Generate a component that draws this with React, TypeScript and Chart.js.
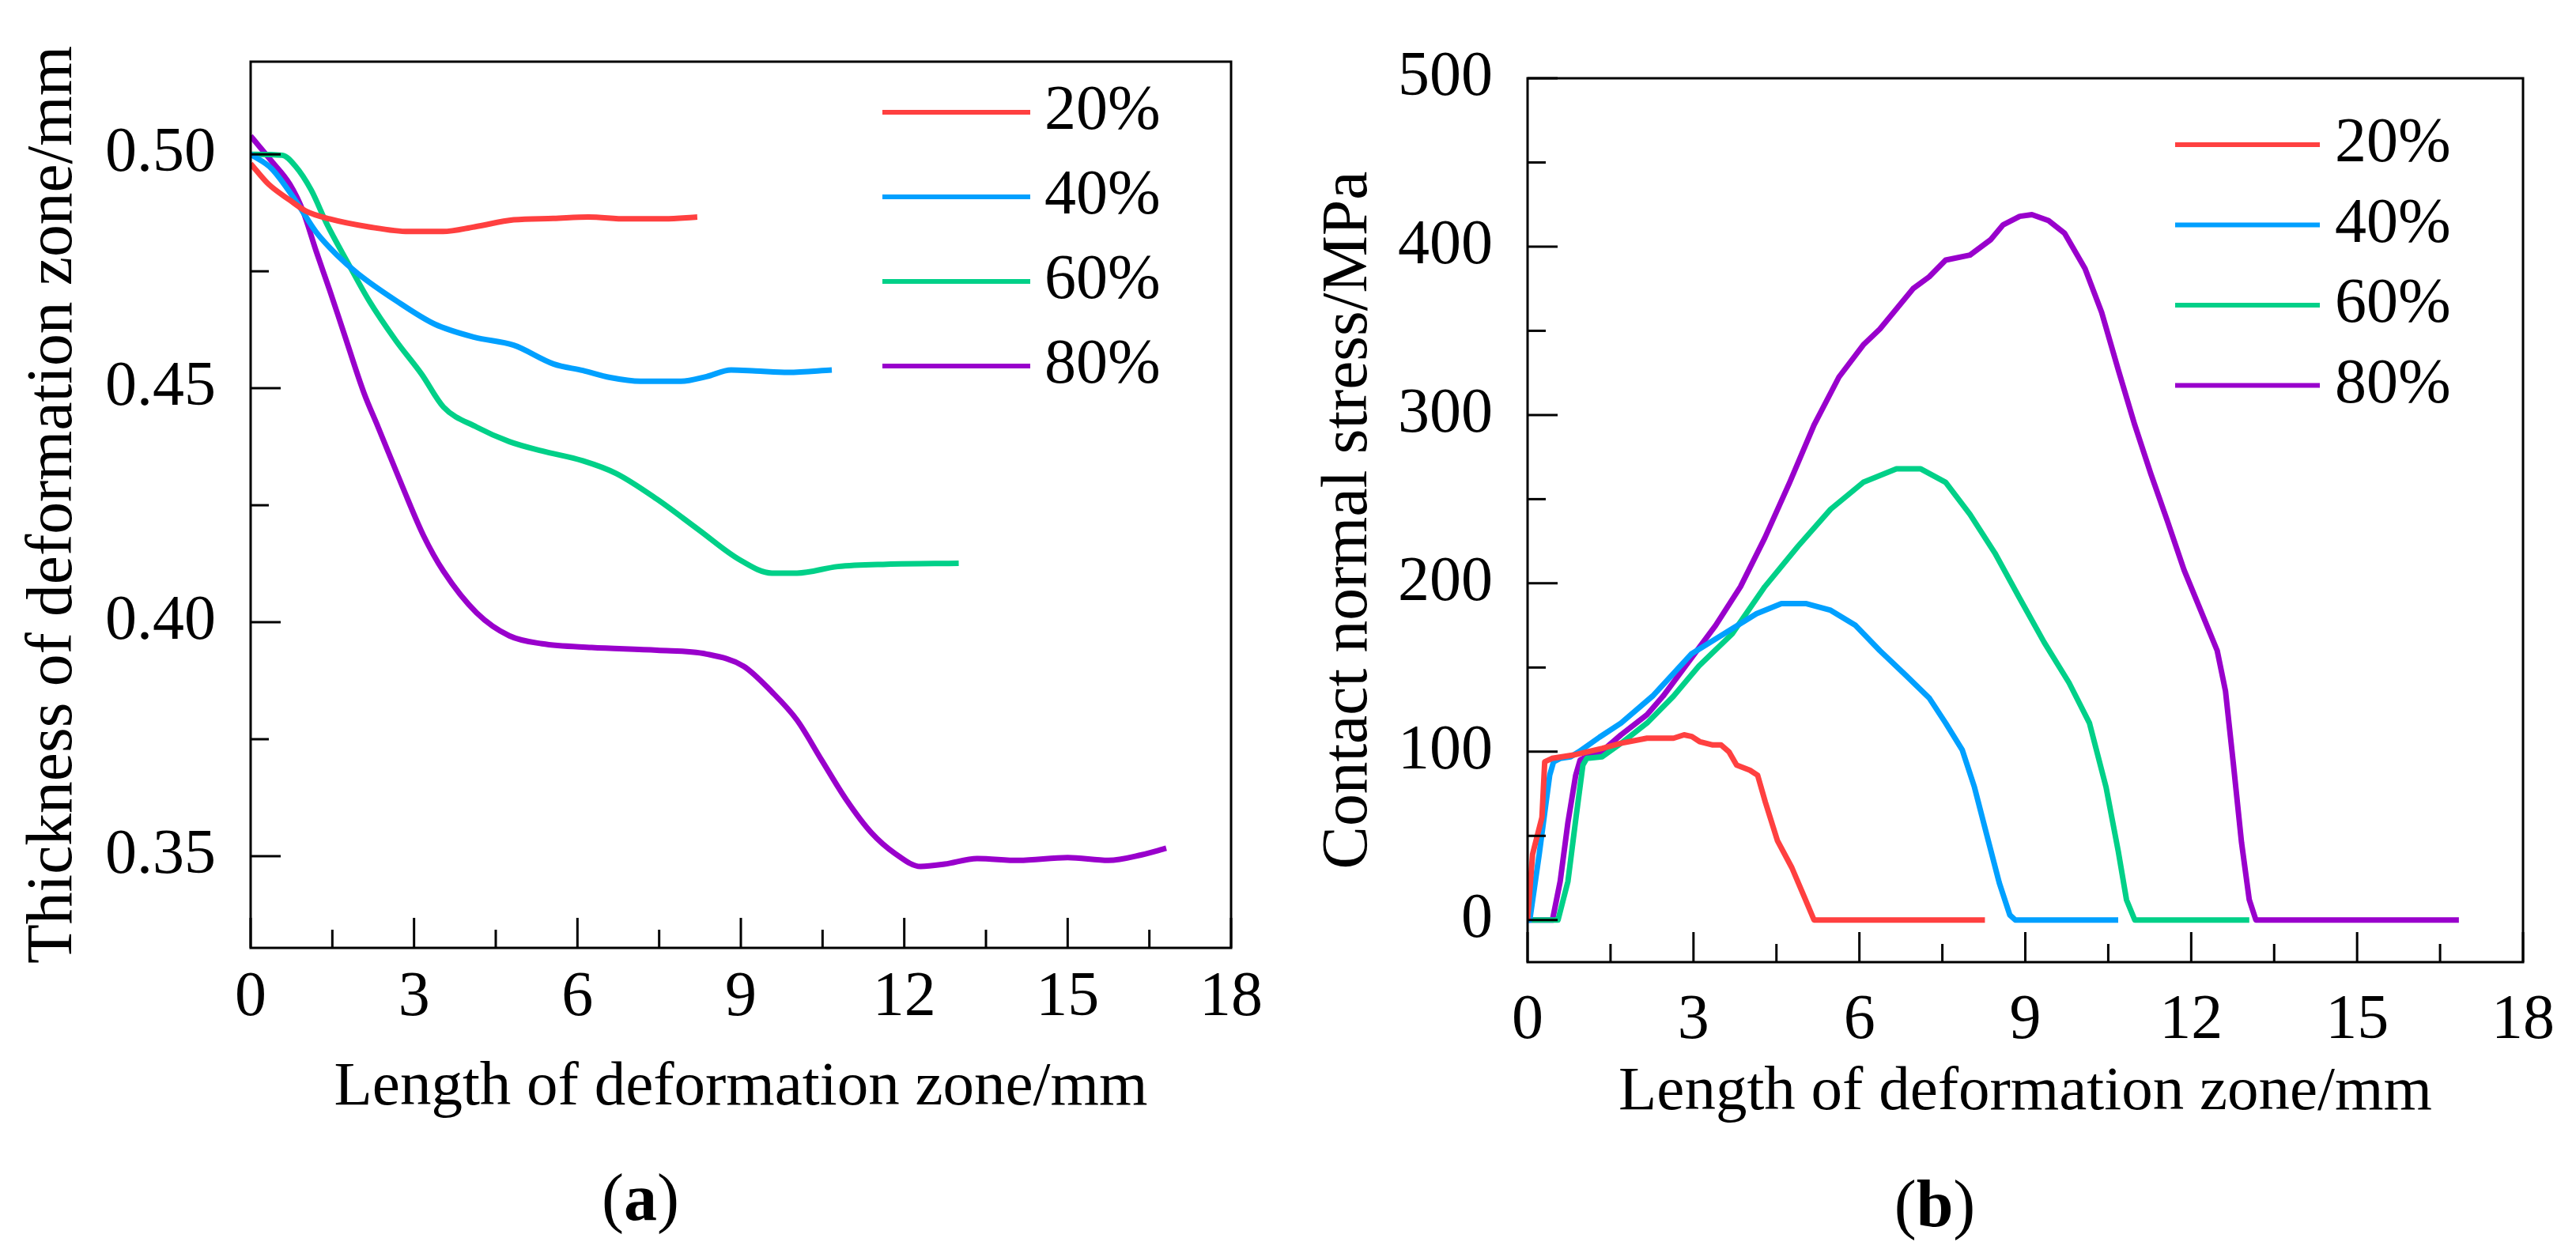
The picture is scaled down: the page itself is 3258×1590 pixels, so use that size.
import React, { useEffect, useRef } from "react";
import { Chart, registerables } from "chart.js";

Chart.register(...registerables);

const FONT = "'Liberation Serif', 'Times New Roman', Times, serif";

// ---------- shared ----------
const SERIES_LABELS = ["20%", "40%", "60%", "80%"];
const SERIES_COLORS = ["#FF4040", "#00A0FF", "#00D088", "#9900CC"];

const X_TICKS = [0, 3, 6, 9, 12, 15, 18];
const X_MINOR = [1.5, 4.5, 7.5, 10.5, 13.5, 16.5];

// ---------- panel (a): thickness ----------
const Y_TICKS_A = [0.35, 0.4, 0.45, 0.5];
const Y_MINOR_A = [0.375, 0.425, 0.475];

const A20_X = [0, 0.33, 0.72, 1.01, 1.45, 2.17, 2.9, 3.53, 4.11, 4.83, 5.56, 6.2, 6.9, 7.6, 8.2];
const A20_Y = [0.498, 0.4936, 0.4902, 0.4879, 0.4862, 0.4845, 0.4835, 0.4835, 0.4845, 0.486, 0.4863, 0.4866, 0.4862, 0.4862, 0.4866];

const A40_X = [0, 0.38, 0.82, 1.2, 1.59, 1.98, 2.66, 3.38, 4.11, 4.83, 5.56, 6.1, 6.6, 7.16, 7.9, 8.37, 8.82, 9.27, 9.87, 10.67];
const A40_Y = [0.5, 0.497, 0.4902, 0.4834, 0.4784, 0.4744, 0.4688, 0.4637, 0.4609, 0.4592, 0.4552, 0.4538, 0.4523, 0.4515, 0.4515, 0.4525, 0.4539, 0.4537, 0.4534, 0.4539];

const A60_X = [0, 0.58, 0.82, 1.11, 1.4, 1.79, 2.17, 2.66, 3.14, 3.54, 4.15, 4.75, 5.35, 6.1, 6.71, 7.46, 8.22, 8.97, 9.57, 10.03, 10.78, 11.68, 13.0];
const A60_Y = [0.5, 0.4998, 0.4975, 0.4924, 0.4851, 0.4767, 0.4688, 0.4603, 0.453, 0.446, 0.4417, 0.4386, 0.4366, 0.4345, 0.4318, 0.4263, 0.4198, 0.4134, 0.4105, 0.4105, 0.4119, 0.4124, 0.4126];

const A80_X = [0, 0.38, 0.72, 0.96, 1.2, 1.45, 1.69, 2.08, 2.34, 2.79, 3.17, 3.54, 4.15, 4.75, 5.35, 6.26, 7.46, 8.37, 9.05, 9.57, 10.03, 10.48, 10.94, 11.39, 11.84, 12.3, 12.74, 13.34, 14.1, 15.0, 15.75, 16.36, 16.81];
const A80_Y = [0.5039, 0.4986, 0.4936, 0.4879, 0.4794, 0.471, 0.4626, 0.449, 0.4417, 0.4289, 0.4186, 0.4109, 0.402, 0.3971, 0.3954, 0.3946, 0.394, 0.3932, 0.3906, 0.3851, 0.3791, 0.3706, 0.362, 0.3551, 0.3505, 0.3478, 0.3483, 0.3495, 0.3491, 0.3497, 0.3491, 0.3503, 0.3517];

// ---------- panel (b): contact normal stress ----------
const Y_TICKS_B = [0, 100, 200, 300, 400, 500];
const Y_MINOR_B = [50, 150, 250, 350, 450];

const B20_X = [0, 0.09, 0.26, 0.31, 0.44, 0.83, 1.35, 1.69, 2.16, 2.64, 2.83, 2.97, 3.11, 3.35, 3.5, 3.64, 3.78, 4.02, 4.16, 4.3, 4.52, 4.78, 5.0, 5.18, 8.27];
const B20_Y = [0, 39, 61, 94, 96, 98, 102, 105, 108, 108, 110, 109, 106, 104, 104, 100, 92, 89, 86, 70, 47, 31, 14, 0, 0];

const B40_X = [0, 0.04, 0.21, 0.4, 0.47, 0.59, 0.78, 0.93, 1.3, 1.69, 2.26, 2.96, 3.55, 4.14, 4.59, 5.03, 5.48, 5.93, 6.37, 6.82, 7.26, 7.56, 7.86, 8.08, 8.3, 8.53, 8.72, 8.82, 10.68];
const B40_Y = [0, 0, 39, 86, 94, 96, 97, 100, 108.6, 117, 133, 158, 170, 182, 188, 188, 184, 175, 160, 146, 132, 117, 101, 79, 51, 22, 3, 0, 0];

const B60_X = [0, 0.55, 0.73, 0.88, 1.0, 1.07, 1.35, 1.69, 2.16, 2.64, 3.1, 3.7, 4.29, 4.89, 5.48, 6.07, 6.67, 7.11, 7.56, 8.0, 8.45, 8.9, 9.34, 9.79, 10.16, 10.46, 10.68, 10.83, 10.98, 13.05];
const B60_Y = [0, 0, 23, 62, 92, 96, 97, 105, 117, 133, 151, 170, 198, 222, 244, 260, 268, 268, 260, 241, 218, 191, 165, 141, 117, 79, 41, 12, 0, 0];

const B80_X = [0, 0.45, 0.59, 0.73, 0.87, 0.95, 1.07, 1.3, 1.69, 2.16, 2.45, 2.96, 3.4, 3.85, 4.29, 4.74, 5.18, 5.63, 6.07, 6.37, 6.67, 6.97, 7.26, 7.56, 8.0, 8.37, 8.6, 8.9, 9.12, 9.42, 9.71, 10.08, 10.38, 10.68, 10.98, 11.27, 11.57, 11.87, 12.17, 12.47, 12.62, 12.76, 12.91, 13.05, 13.17, 16.84];
const B80_Y = [0, 0, 23, 58, 86, 95, 97, 99, 110, 122, 133, 155.5, 175, 198, 227, 260, 294, 322.5, 341.6, 351, 363, 375, 382, 392, 395, 404, 413, 418, 419, 415.5, 408, 387, 361, 327, 294, 265, 237, 208, 184, 160, 136, 93.5, 46, 12, 0, 0];

const zip = (xs: number[], ys: number[]) => xs.map((x, i) => ({ x, y: ys[i] }));

// ---------- plugins ----------
const frameTicksPlugin = {
  id: "frameTicks",
  afterDatasetsDraw(chart: any, _args: any, o: any) {
    const { ctx, chartArea } = chart;
    const { left, right, top, bottom } = chartArea;
    const xs = chart.scales.x;
    const ys = chart.scales.y;
    ctx.save();
    ctx.strokeStyle = "#000";
    ctx.lineWidth = 3;
    ctx.lineCap = "butt";
    ctx.strokeRect(left, top, right - left, bottom - top);
    const drawX = (vals: number[], len: number) => {
      vals.forEach((v) => {
        const px = xs.getPixelForValue(v);
        ctx.beginPath();
        ctx.moveTo(px, bottom);
        ctx.lineTo(px, bottom - len);
        ctx.stroke();
      });
    };
    const drawY = (vals: number[], len: number) => {
      vals.forEach((v) => {
        const py = ys.getPixelForValue(v);
        ctx.beginPath();
        ctx.moveTo(left, py);
        ctx.lineTo(left + len, py);
        ctx.stroke();
      });
    };
    drawX(xs.ticks.map((t: any) => t.value), o.major);
    drawX(o.xMinor, o.minor);
    drawY(ys.ticks.map((t: any) => t.value), o.major);
    drawY(o.yMinor, o.minor);
    ctx.restore();
  },
};

const innerLegendPlugin = {
  id: "innerLegend",
  afterDraw(chart: any, _args: any, o: any) {
    const { ctx } = chart;
    ctx.save();
    ctx.font = `${o.fontSize}px ${FONT}`;
    ctx.textAlign = "left";
    ctx.textBaseline = "middle";
    chart.data.datasets.forEach((ds: any, i: number) => {
      const y = o.rowStart + i * o.rowGap;
      ctx.strokeStyle = ds.borderColor;
      ctx.lineWidth = o.lineWidth;
      ctx.beginPath();
      ctx.moveTo(o.x1, y);
      ctx.lineTo(o.x2, y);
      ctx.stroke();
      ctx.fillStyle = "#000";
      ctx.fillText(ds.label, o.textX, y);
    });
    ctx.restore();
  },
};

const panelLabelPlugin = {
  id: "panelLabel",
  afterDraw(chart: any, _args: any, o: any) {
    const { ctx } = chart;
    ctx.save();
    ctx.fillStyle = "#000";
    ctx.textBaseline = "alphabetic";
    ctx.textAlign = "left";
    const normal = `${o.fontSize}px ${FONT}`;
    const bold = `bold ${o.fontSize}px ${FONT}`;
    ctx.font = normal;
    const wL = ctx.measureText("(").width;
    const wR = ctx.measureText(")").width;
    ctx.font = bold;
    const wM = ctx.measureText(o.text).width;
    let x = o.cx - (wL + wM + wR) / 2;
    ctx.font = normal;
    ctx.fillText("(", x, o.baseline);
    x += wL;
    ctx.font = bold;
    ctx.fillText(o.text, x, o.baseline);
    x += wM;
    ctx.font = normal;
    ctx.fillText(")", x, o.baseline);
    ctx.restore();
  },
};

// ---------- config builder ----------
type PanelSpec = {
  xs: number[][];
  ys: number[][];
  smooth: boolean;
  yMin: number;
  yMax: number;
  yTicks: number[];
  yMinor: number[];
  yFmt: (v: number) => string;
  yTitle: string;
  yTitlePad: number;
  yWidth: number;
  xHeight: number;
  xTickPad: number;
  pad: { top: number; right: number; bottom: number };
  legend: any;
  label: any;
};

function buildConfig(p: PanelSpec): any {
  const datasets = SERIES_LABELS.map((lab, i) => ({
    label: lab,
    data: zip(p.xs[i], p.ys[i]),
    borderColor: SERIES_COLORS[i],
    backgroundColor: SERIES_COLORS[i],
    borderWidth: 7,
    pointRadius: 0,
    pointHoverRadius: 0,
    fill: false,
    tension: 0,
    cubicInterpolationMode: p.smooth ? "monotone" : "default",
    borderJoinStyle: "round",
  }));
  return {
    type: "line",
    data: { datasets },
    options: {
      responsive: false,
      devicePixelRatio: 1,
      animation: false,
      events: [],
      layout: { padding: { left: 0, top: p.pad.top, right: p.pad.right, bottom: p.pad.bottom } },
      plugins: {
        legend: { display: false },
        tooltip: { enabled: false },
        title: { display: false },
        frameTicks: { major: 38, minor: 23, xMinor: X_MINOR, yMinor: p.yMinor },
        innerLegend: p.legend,
        panelLabel: p.label,
      },
      scales: {
        x: {
          type: "linear",
          position: "bottom",
          min: 0,
          max: 18,
          grid: { display: false, drawTicks: false },
          border: { display: false },
          afterBuildTicks: (s: any) => {
            s.ticks = X_TICKS.map((v) => ({ value: v }));
          },
          afterFit: (s: any) => {
            s.height = p.xHeight;
            s.paddingLeft = 0;
            s.paddingRight = 0;
          },
          ticks: {
            color: "#000",
            font: { family: FONT, size: 80 },
            padding: p.xTickPad,
            maxRotation: 0,
            autoSkip: false,
            callback: (v: any) => String(v),
          },
          title: {
            display: true,
            text: "Length of deformation zone/mm",
            color: "#000",
            font: { family: FONT, size: 79 },
            padding: { top: 0, bottom: 0 },
          },
        },
        y: {
          type: "linear",
          position: "left",
          min: p.yMin,
          max: p.yMax,
          grid: { display: false, drawTicks: false },
          border: { display: false },
          afterBuildTicks: (s: any) => {
            s.ticks = p.yTicks.map((v) => ({ value: v }));
          },
          afterFit: (s: any) => {
            s.width = p.yWidth;
            s.paddingTop = 0;
            s.paddingBottom = 0;
          },
          ticks: {
            color: "#000",
            font: { family: FONT, size: 80 },
            padding: 44,
            autoSkip: false,
            callback: (v: any) => p.yFmt(Number(v)),
          },
          title: {
            display: true,
            text: p.yTitle,
            color: "#000",
            font: { family: FONT, size: 81.5 },
            padding: { top: p.yTitlePad, bottom: 0 },
          },
        },
      },
    },
    plugins: [frameTicksPlugin, innerLegendPlugin, panelLabelPlugin],
  };
}

const PANEL_A: PanelSpec = {
  xs: [A20_X, A40_X, A60_X, A80_X],
  ys: [A20_Y, A40_Y, A60_Y, A80_Y],
  smooth: true,
  yMin: 0.3304,
  yMax: 0.5198,
  yTicks: Y_TICKS_A,
  yMinor: Y_MINOR_A,
  yFmt: (v) => v.toFixed(2),
  yTitle: "Thickness of deformation zone/mm",
  yTitlePad: 20,
  yWidth: 317,
  xHeight: 225,
  xTickPad: 16,
  pad: { top: 78, right: 72, bottom: 166 },
  legend: { x1: 1116, x2: 1303, textX: 1321, rowStart: 142, rowGap: 107, lineWidth: 6, fontSize: 80 },
  label: { text: "a", cx: 810, baseline: 1543, fontSize: 84 },
};

const PANEL_B: PanelSpec = {
  xs: [B20_X, B40_X, B60_X, B80_X],
  ys: [B20_Y, B40_Y, B60_Y, B80_Y],
  smooth: false,
  yMin: -25,
  yMax: 500,
  yTicks: Y_TICKS_B,
  yMinor: Y_MINOR_B,
  yFmt: (v) => String(Math.round(v)),
  yTitle: "Contact normal stress/MPa",
  yTitlePad: 29,
  yWidth: 303,
  xHeight: 213,
  xTickPad: 27,
  pad: { top: 99, right: 67, bottom: 160 },
  legend: { x1: 1122, x2: 1305, textX: 1324, rowStart: 183, rowGap: 101.5, lineWidth: 6, fontSize: 80 },
  label: { text: "b", cx: 818, baseline: 1551, fontSize: 84 },
};

function Panel({ spec }: { spec: PanelSpec }) {
  const ref = useRef<HTMLCanvasElement | null>(null);
  useEffect(() => {
    if (!ref.current) return;
    const chart = new Chart(ref.current, buildConfig(spec));
    return () => chart.destroy();
  }, [spec]);
  return (
    <canvas
      ref={ref}
      width={1629}
      height={1590}
      style={{ display: "block", width: 1629, height: 1590 }}
    />
  );
}

export default function App() {
  useEffect(() => {
    document.body.style.margin = "0";
    document.body.style.overflow = "hidden";
    document.body.style.background = "#fff";
  }, []);
  return (
    <div style={{ display: "flex", width: 3258, height: 1590, background: "#fff" }}>
      <Panel spec={PANEL_A} />
      <Panel spec={PANEL_B} />
    </div>
  );
}
